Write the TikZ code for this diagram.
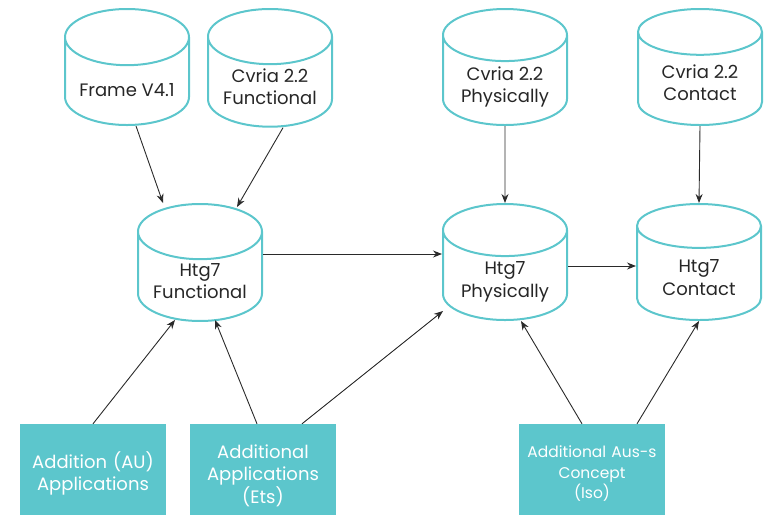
\documentclass[tikz,border=0pt]{standalone}
\usepackage{fontspec}
\setmainfont{Poppins}
\usetikzlibrary{shapes.geometric, arrows.meta}
\definecolor{tealbox}{HTML}{5CC6CC}
\definecolor{darkline}{HTML}{2A2A2A}

\begin{document}
\begin{tikzpicture}[x=1pt, y=-1pt,
    db/.style={cylinder, shape border rotate=90, draw=tealbox, line width=2pt,
        aspect=0.55, minimum width=124pt, minimum height=116pt, anchor=north,
        align=center, text=black!85, font=\fontsize{18}{22.5}\selectfont,
        text depth=0pt, execute at begin node={\rule{0pt}{#1}}},
    srcbox/.style={fill=tealbox, text=white, minimum width=144pt, minimum height=91pt,
        text width=140pt, align=center, font=\fontsize{18}{22.5}\selectfont,
        text height=14pt, text depth=#1},
    link/.style={-{Stealth[length=9pt, width=7pt]}, draw=darkline, line width=0.9pt}]
    \useasboundingbox (0,0) rectangle (767,515);

    % Source databases
    \node[db=20pt] (frame) at (127,8) {Frame V4.1};
    \node[db=32pt] (cvfun) at (270,8) {Cvria 2.2\\Functional};
    \node[db=32pt] (cvphys) at (505,8) {Cvria 2.2\\Physically};
    \node[db=36pt] (cvcont) at (700,8) {Cvria 2.2\\Contact};

    % Htg7 databases
    \node[db=32pt] (htgfun) at (200,203) {Htg7\\Functional};
    \node[db=32pt] (htgphys) at (505,203) {Htg7\\Physically};
    \node[db=36pt] (htgcont) at (699,203) {Htg7\\Contact};

    % Additional inputs
    \node[srcbox=17pt] (addau) at (93,469.5) {Addition (AU)\\Applications};
    \node[srcbox=37pt] (addets) at (263,469.5) {Additional\\Applications\\(Ets)};
    \node[srcbox=36pt, text height=12pt, font=\fontsize{15.5}{20.5}\selectfont] (addiso) at (592,469.5) {Additional Aus-s\\Concept\\(Iso)};

    % Links
    \draw[link] ([xshift=9pt]frame.south) -- ([xshift=-37pt]htgfun.north);
    \draw[link] ([xshift=13pt]cvfun.south) -- ([xshift=37pt, yshift=-4pt]htgfun.north);
    \draw[link] (cvphys.south) -- (htgphys.north);
    \draw[link] (cvcont.south) -- (htgcont.north);
    \draw[link] (htgfun.east |- 0,254) -- (htgphys.west |- 0,254);
    \draw[link] (htgphys.east |- 0,266) -- (htgcont.west |- 0,266);
    \draw[link] (addau.north) -- ([xshift=-25pt, yshift=2pt]htgfun.south);
    \draw[link] ([xshift=-6pt]addets.north) -- ([xshift=15pt, yshift=2pt]htgfun.south);
    \draw[link] ([xshift=39pt]addets.north) -- ([xshift=-62pt, yshift=10pt]htgphys.south);
    \draw[link] ([xshift=-10pt]addiso.north) -- ([xshift=16pt]htgphys.south);
    \draw[link] ([xshift=45pt]addiso.north) -- ([xshift=0pt]htgcont.south);
\end{tikzpicture}
\end{document}
